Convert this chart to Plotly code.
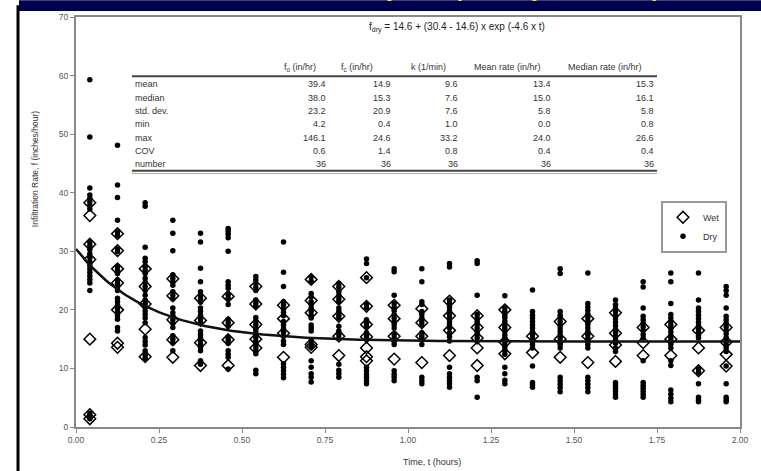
import numpy as np
import plotly.graph_objects as go

# Sampling times (hours): midpoints of 5-minute intervals
time_hours = [(i + 0.5) / 12 for i in range(24)]

# Dry-condition infiltration rates (in/hr), one list per interval
dry_by_interval = [
    [59.3, 49.5, 40.8, 39.6, 39.0, 38.4, 37.8, 37.2, 31.6, 31.0, 30.3, 29.6, 28.9, 28.2, 27.6, 27.0, 26.4, 25.8, 25.2, 24.6, 23.3, 2.3, 1.8, 1.4],
    [48.1, 41.3, 39.2, 35.3, 33.3, 32.7, 30.4, 29.9, 27.4, 26.8, 26.2, 25.1, 24.5, 23.9, 23.3, 22.0, 21.4, 20.8, 20.2, 19.6, 19.0, 18.4, 17.0, 16.4],
    [38.3, 37.7, 30.7, 28.8, 28.2, 27.4, 26.8, 26.2, 25.4, 24.7, 24.0, 23.3, 22.5, 21.7, 21.1, 20.5, 19.8, 19.2, 18.6, 17.8, 15.3, 14.6, 14.0, 13.0, 12.2, 11.7],
    [35.3, 33.1, 30.1, 26.0, 25.4, 24.8, 24.2, 23.1, 22.5, 21.9, 20.3, 19.5, 18.9, 18.3, 17.7, 17.0, 15.6, 15.0, 14.4, 13.0],
    [33.1, 31.6, 27.1, 24.8, 23.1, 22.5, 21.9, 21.3, 20.3, 19.7, 19.1, 18.4, 17.8, 16.4, 15.8, 15.3, 14.7, 14.1, 13.6, 13.0, 11.3, 10.7],
    [33.9, 33.4, 32.9, 32.3, 30.0, 24.8, 24.2, 23.7, 22.6, 22.0, 20.9, 18.4, 17.8, 17.2, 15.3, 14.8, 14.3, 13.0, 12.4, 11.9, 9.9],
    [25.7, 25.1, 24.5, 23.9, 23.3, 21.7, 21.1, 20.6, 18.7, 18.1, 17.5, 16.9, 16.4, 15.8, 15.3, 14.7, 14.2, 13.6, 13.0, 12.5, 9.7, 9.1],
    [31.6, 26.4, 24.0, 21.4, 20.8, 20.2, 19.6, 19.0, 18.0, 17.4, 16.8, 16.2, 15.6, 14.7, 14.1, 10.8, 10.2, 9.6, 9.0, 8.4],
    [25.6, 24.9, 22.8, 22.2, 21.4, 20.9, 20.3, 19.7, 19.1, 18.6, 17.4, 16.9, 16.4, 14.7, 14.1, 13.6, 11.3, 10.2, 9.1, 8.5, 7.7],
    [24.5, 23.9, 23.1, 22.5, 21.9, 21.4, 20.3, 19.7, 19.1, 18.6, 17.2, 16.4, 15.8, 15.2, 10.7, 9.7, 9.1, 8.5],
    [28.7, 27.9, 25.5, 20.9, 20.3, 18.3, 17.7, 17.2, 16.1, 15.6, 15.2, 10.2, 9.6, 9.0, 8.5, 7.9, 7.4],
    [27.0, 26.5, 22.5, 21.1, 20.5, 19.9, 19.2, 18.6, 18.0, 17.5, 16.9, 15.8, 15.2, 14.6, 14.1, 9.6, 9.0, 8.5, 7.9],
    [27.0, 24.8, 21.4, 20.9, 19.7, 19.2, 18.6, 18.0, 17.5, 16.1, 15.6, 15.2, 14.1, 8.5, 7.9, 7.4],
    [27.9, 27.3, 21.7, 21.1, 20.5, 19.9, 19.2, 18.6, 18.0, 17.5, 16.9, 16.1, 15.4, 14.7, 10.2, 9.1, 8.5, 7.9, 7.4, 6.8],
    [28.4, 27.9, 22.5, 19.2, 18.6, 18.0, 17.5, 16.9, 16.3, 15.8, 15.2, 8.5, 7.9, 5.1],
    [22.4, 20.3, 19.7, 19.1, 18.6, 18.0, 17.4, 16.9, 16.3, 15.7, 15.2, 14.7, 14.1, 13.6, 13.0, 12.4, 10.2, 9.1, 8.0, 7.4],
    [23.4, 19.7, 19.1, 18.6, 18.0, 17.4, 16.9, 16.3, 15.8, 15.2, 14.6, 14.1, 13.5, 10.4, 7.6, 7.2, 6.8],
    [27.0, 26.2, 19.7, 19.1, 18.6, 18.0, 17.4, 16.9, 16.3, 15.7, 15.2, 14.6, 14.1, 13.5, 8.5, 7.9, 7.3, 6.7, 6.0],
    [26.3, 21.1, 20.5, 19.9, 19.3, 18.7, 18.1, 17.5, 16.9, 16.3, 15.7, 15.1, 14.6, 14.1, 13.5, 8.5, 7.9, 7.3, 6.7, 6.0],
    [21.7, 20.9, 20.3, 19.7, 19.1, 18.5, 17.9, 17.3, 16.7, 16.1, 15.5, 14.9, 14.3, 13.5, 12.9, 7.6, 7.1, 6.6, 6.1, 5.6, 5.1],
    [24.8, 23.9, 20.3, 18.9, 18.3, 17.7, 17.1, 16.5, 15.8, 15.2, 11.3, 7.6, 7.1, 6.6, 6.1, 5.6, 5.1],
    [26.3, 24.8, 21.1, 19.2, 18.6, 18.0, 17.4, 16.8, 16.2, 15.6, 15.1, 14.6, 14.1, 13.5, 11.3, 10.5, 6.3, 5.6, 4.9, 4.3],
    [26.3, 21.7, 20.3, 19.7, 19.1, 18.5, 17.9, 17.3, 16.7, 16.1, 15.6, 15.2, 9.9, 9.3, 7.4, 5.1, 4.6, 4.3],
    [24.0, 23.3, 22.5, 20.3, 18.9, 18.3, 17.7, 17.1, 16.5, 15.9, 15.3, 14.7, 14.1, 13.5, 12.9, 10.4, 7.4, 5.1, 4.6, 4.3],
]

# Wet-condition infiltration rates (in/hr), one list per interval
wet_by_interval = [
    [38.3, 36.1, 31.2, 28.6, 15.0, 2.1, 1.4],
    [33.0, 30.1, 27.0, 24.6, 20.0, 14.3, 13.6],
    [27.0, 24.0, 21.0, 16.7, 12.0],
    [25.3, 22.4, 18.3, 14.9, 11.9],
    [22.0, 18.2, 14.4, 10.5],
    [22.3, 17.8, 14.9, 10.5],
    [24.0, 21.0, 17.5, 15.0, 13.5],
    [20.8, 18.5, 16.0, 11.9],
    [25.2, 21.6, 19.5, 14.1, 13.6],
    [24.0, 21.8, 18.9, 15.5, 12.2],
    [25.5, 20.6, 17.5, 15.4, 13.5, 12.0, 11.3],
    [20.8, 18.5, 15.5, 11.6],
    [20.2, 17.8, 15.5, 11.0],
    [21.5, 19.0, 16.5, 12.2],
    [19.0, 17.0, 15.2, 13.5, 10.5],
    [20.0, 17.0, 14.5, 12.5],
    [15.5, 12.7],
    [18.0, 15.0, 11.9],
    [18.5, 15.5, 11.0],
    [19.5, 16.0, 14.0, 11.2],
    [17.0, 14.4, 12.2],
    [17.5, 15.0, 12.2],
    [16.5, 13.5, 9.6],
    [17.0, 14.5, 12.4, 10.4],
]

# Fitted decay model parameters for the dry data
fit_fc = 14.6
fit_fo = 30.4
fit_k = 4.6

# Summary statistics table
stat_rows = ["mean", "median", "std. dev.", "min", "max", "COV", "number"]
stat_columns = ["f<sub>o</sub> (in/hr)", "f<sub>c</sub> (in/hr)", "k (1/min)",
                "Mean rate (in/hr)", "Median rate (in/hr)"]
stat_fo = ["39.4", "38.0", "23.2", "4.2", "146.1", "0.6", "36"]
stat_fc = ["14.9", "15.3", "20.9", "0.4", "24.6", "1.4", "36"]
stat_k = ["9.6", "7.6", "7.6", "1.0", "33.2", "0.8", "36"]
stat_mean_rate = ["13.4", "15.0", "5.8", "0.0", "24.0", "0.4", "36"]
stat_median_rate = ["15.3", "16.1", "5.8", "0.8", "26.6", "0.4", "36"]

x_ticks = [0.0, 0.25, 0.5, 0.75, 1.0, 1.25, 1.5, 1.75, 2.0]
y_ticks = [0, 10, 20, 30, 40, 50, 60, 70]

W, H = 761, 471
ML, MR, MT, MB = 76, 21, 12, 44
PW, PH = W - ML - MR, H - MT - MB
FONT = "Liberation Sans, Arial, sans-serif"


def px_x(px):
    return (px - ML) / PW


def px_y(py):
    return (H - MB - py) / PH


def flatten(groups):
    xs, ys = [], []
    for t, vals in zip(time_hours, groups):
        xs.extend([t] * len(vals))
        ys.extend(vals)
    return xs, ys


wet_x, wet_y = flatten(wet_by_interval)
dry_x, dry_y = flatten(dry_by_interval)

fig = go.Figure()
fig.add_trace(go.Scatter(
    x=wet_x, y=wet_y, mode="markers", name="Wet",
    marker=dict(symbol="diamond-open", size=9, color="black", line=dict(width=1.5, color="black")),
))
fig.add_trace(go.Scatter(
    x=dry_x, y=dry_y, mode="markers", name="Dry",
    marker=dict(symbol="circle", size=5.5, color="black"),
))

t_curve = np.linspace(0, 2, 200)
f_curve = fit_fc + (fit_fo - fit_fc) * np.exp(-fit_k * t_curve)
fig.add_trace(go.Scatter(
    x=t_curve, y=f_curve, mode="lines", showlegend=False,
    line=dict(color="#111111", width=2.5),
))

annotations = []

# Fitted equation
annotations.append(dict(
    text="f<sub>dry</sub> = 14.6 + (30.4 - 14.6) x exp (-4.6 x t)",
    x=px_x(457), y=px_y(23), xref="paper", yref="paper",
    xanchor="center", yanchor="middle", showarrow=False,
    font=dict(family=FONT, size=10, color="#222222"),
))

# Statistics table
header_centers = [300, 357, 428, 507, 605]
for cx, label in zip(header_centers, stat_columns):
    annotations.append(dict(
        text=label, x=px_x(cx), y=px_y(63), xref="paper", yref="paper",
        xanchor="center", yanchor="middle", showarrow=False,
        font=dict(family=FONT, size=9, color="#333333"),
    ))

row_ys = [80, 93.5, 107, 120.5, 134, 147.5, 161]
col_rights = [328, 393, 460, 553, 656]
col_values = [stat_fo, stat_fc, stat_k, stat_mean_rate, stat_median_rate]
for i, row in enumerate(stat_rows):
    annotations.append(dict(
        text=row, x=px_x(133), y=px_y(row_ys[i]), xref="paper", yref="paper",
        xanchor="left", yanchor="middle", showarrow=False,
        font=dict(family=FONT, size=9, color="#333333"),
    ))
    for rx, vals in zip(col_rights, col_values):
        annotations.append(dict(
            text=vals[i], x=px_x(rx), y=px_y(row_ys[i]), xref="paper", yref="paper",
            xanchor="right", yanchor="middle", showarrow=False,
            font=dict(family=FONT, size=9, color="#333333"),
        ))

# Axis titles
annotations.append(dict(
    text="Infiltration Rate, f (inches/hour)", textangle=-90,
    x=px_x(35), y=px_y(166), xref="paper", yref="paper",
    xanchor="center", yanchor="middle", showarrow=False,
    font=dict(family=FONT, size=8.5, color="#333333"),
))
annotations.append(dict(
    text="Time, t (hours)", x=px_x(432), y=px_y(462), xref="paper", yref="paper",
    xanchor="center", yanchor="middle", showarrow=False,
    font=dict(family=FONT, size=9, color="#333333"),
))

# Banner title, running off the top edge of the page
annotations.append(dict(
    text="<b>Infiltration Rates by Time (Wet, Dry Conditions)</b>",
    x=px_x(435), y=px_y(-2), xref="paper", yref="paper",
    xanchor="center", yanchor="bottom", showarrow=False,
    font=dict(family=FONT, size=20, color="#ffff00"),
))

shapes = [
    # navy banner
    dict(type="rect", xref="paper", yref="paper", x0=px_x(19), x1=px_x(W + 2),
         y0=px_y(6), y1=px_y(-5), fillcolor="#000050", line=dict(width=0), layer="below"),
    # left frame rule
    dict(type="line", xref="paper", yref="paper", x0=px_x(18), x1=px_x(18),
         y0=px_y(0), y1=px_y(H + 2), line=dict(color="black", width=3)),
    # table rules
    dict(type="line", xref="paper", yref="paper", x0=px_x(132), x1=px_x(657),
         y0=px_y(72), y1=px_y(72), line=dict(color="#444444", width=2)),
    dict(type="line", xref="paper", yref="paper", x0=px_x(132), x1=px_x(657),
         y0=px_y(167.5), y1=px_y(167.5), line=dict(color="#444444", width=2)),
    dict(type="line", xref="paper", yref="paper", x0=px_x(132), x1=px_x(657),
         y0=px_y(170.5), y1=px_y(170.5), line=dict(color="#aaaaaa", width=1)),
]

fig.update_layout(
    width=W, height=H,
    margin=dict(l=ML, r=MR, t=MT, b=MB),
    paper_bgcolor="white", plot_bgcolor="white",
    font=dict(family=FONT, size=8.5, color="#444444"),
    showlegend=True,
    legend=dict(
        x=px_x(661), y=px_y(198), xanchor="left", yanchor="top",
        bgcolor="white", bordercolor="#999999", borderwidth=2,
        font=dict(family=FONT, size=9, color="#333333"),
        itemwidth=30, tracegroupgap=0,
    ),
    xaxis=dict(
        range=[0, 2], tickvals=x_ticks, ticktext=[f"{v:.2f}" for v in x_ticks],
        showgrid=False, zeroline=False, showline=True, mirror=True,
        linecolor="#888888", linewidth=2, ticks="outside", ticklen=4,
        tickcolor="#888888", tickfont=dict(size=8.5, color="#555555"),
    ),
    yaxis=dict(
        range=[0, 70], tickvals=y_ticks,
        showgrid=False, zeroline=False, showline=True, mirror=True,
        linecolor="#888888", linewidth=2, ticks="outside", ticklen=4,
        tickcolor="#888888", tickfont=dict(size=8.5, color="#555555"),
    ),
    annotations=annotations,
    shapes=shapes,
)

fig.write_html("out.html")
